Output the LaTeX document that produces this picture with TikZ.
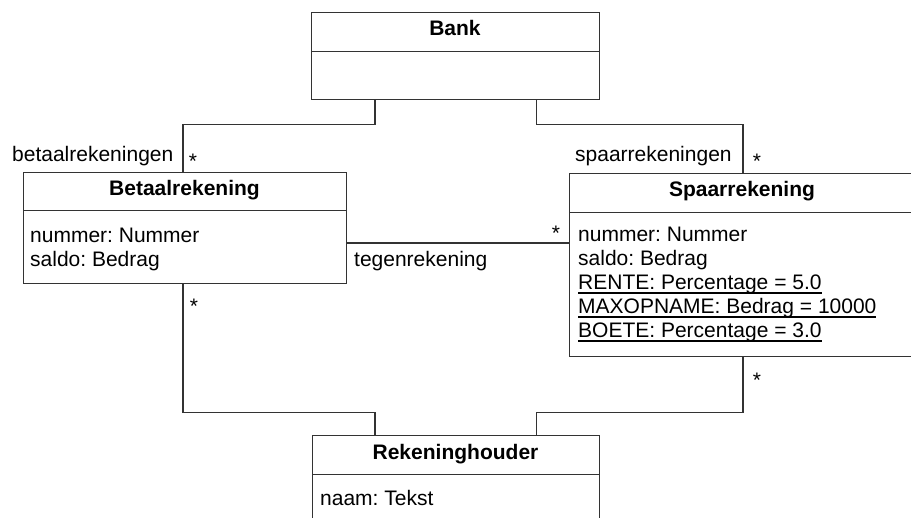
\documentclass[tikz,border=0pt]{standalone}
\usepackage{fontspec}
\setmainfont{Liberation Sans}
\definecolor{linegray}{HTML}{333333}
% static attribute: underline that runs through the descenders
\newcommand\staticattr[1]{\setbox0\hbox{#1}\rlap{\rule[-3.6pt]{\wd0}{1.1pt}}\box0}
\begin{document}
\frenchspacing
\begin{tikzpicture}[x=1pt,y=-1pt,
  compart/.style={draw=linegray, line width=1.3pt, inner sep=0pt, anchor=north west},
  classname/.style={anchor=base, inner sep=0pt, font=\fontsize{21}{24}\selectfont\bfseries},
  attr/.style={anchor=base west, inner sep=0pt, font=\fontsize{21}{24}\selectfont},
  mult/.style={anchor=base, inner sep=0pt, font=\fontsize{21}{24}\selectfont},
  assoc/.style={draw=linegray, line width=1.3pt}]
\useasboundingbox (0,0) rectangle (911,518);
\clip (0,0) rectangle (911,518);

% class compartments
\node[compart, minimum width=288pt, minimum height=39pt] (bank-head) at (311,12) {};
\node[compart, minimum width=288pt, minimum height=48pt] (bank-body) at (311,51) {};
\node[compart, minimum width=323pt, minimum height=38pt] (betaal-head) at (23,172) {};
\node[compart, minimum width=323pt, minimum height=73pt] (betaal-body) at (23,210) {};
\node[compart, minimum width=346pt, minimum height=39pt] (spaar-head) at (569,173) {};
\node[compart, minimum width=346pt, minimum height=144pt] (spaar-body) at (569,212) {};
\node[compart, minimum width=287pt, minimum height=39pt] (rek-head) at (312,435) {};
\node[compart, minimum width=287pt, minimum height=70pt] (rek-body) at (312,474) {};

% class names
\node[classname] (bank-name) at (455,36) {Bank};
\node[classname] (betaal-name) at (184.5,196) {Betaalrekening};
\node[classname] (spaar-name) at (742,197) {Spaarrekening};
\node[classname] (rek-name) at (455.5,460) {Rekeninghouder};

% attributes
\node[attr] (betaal-a1) at (30,243) {nummer: Nummer};
\node[attr] (betaal-a2) at (30,267) {saldo: Bedrag};
\node[attr] (spaar-a1) at (578,242) {nummer: Nummer};
\node[attr] (spaar-a2) at (578,266) {saldo: Bedrag};
\node[attr] (spaar-a3) at (578,290) {\staticattr{RENTE: Percentage = 5.0}};
\node[attr] (spaar-a4) at (578,314) {\staticattr{MAXOPNAME: Bedrag = 10000}};
\node[attr] (spaar-a5) at (578,338) {\staticattr{BOETE: Percentage = 3.0}};
\node[attr] (rek-a1) at (320,506) {naam: Tekst};

% associations
\draw[assoc] ([xshift=64pt]bank-body.south west) -- ++(0,24) -| ([xshift=160pt]betaal-head.north west);
\draw[assoc] ([xshift=-64pt]bank-body.south east) -- ++(0,24) -| ([xshift=174pt]spaar-head.north west);
\draw[assoc] ([yshift=-33pt]betaal-body.north east) coordinate (tg) -- (tg -| spaar-body.west);
\draw[assoc] ([xshift=160pt]betaal-body.south west) -- ++(0,128) -| ([xshift=63pt]rek-head.north west);
\draw[assoc] ([xshift=174pt]spaar-body.south west) -- ++(0,55) -| ([xshift=-64pt]rek-head.north east);

% role names and multiplicities
\node[attr] (role-betaal) at (12,162) {betaalrekeningen};
\node[attr] (role-spaar) at (575,162) {spaarrekeningen};
\node[attr] (role-tegen) at (354,267) {tegenrekening};
\node[mult] (m-betaal) at (193,169) {*};
\node[mult] (m-spaar) at (757,169) {*};
\node[mult] (m-tegen) at (556,241) {*};
\node[mult] (m-betaal-houder) at (194,314) {*};
\node[mult] (m-spaar-houder) at (757,388) {*};
\end{tikzpicture}
\end{document}
